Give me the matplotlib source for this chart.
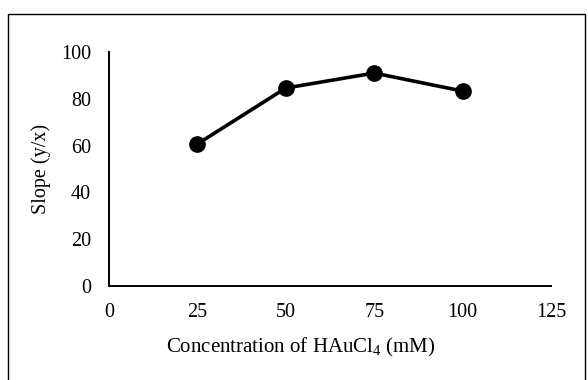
import matplotlib
matplotlib.use("Agg")
import matplotlib.pyplot as plt
from matplotlib.patches import Rectangle

# data
concentration = [25, 50, 75, 100]
slope = [60.7, 84.6, 91.0, 83.3]
x_ticks = [0, 25, 50, 75, 100, 125]
y_ticks = [0, 20, 40, 60, 80, 100]

plt.rcParams['font.family'] = ['Liberation Serif', 'DejaVu Serif']
plt.rcParams['mathtext.fontset'] = 'custom'
plt.rcParams['mathtext.rm'] = 'Liberation Serif'

fs = 14.5

fig = plt.figure(figsize=(5.88, 3.8), dpi=100)
fig.patches.append(Rectangle((8 / 588, -0.05), 577 / 588, (380 - 14) / 380 + 0.05,
                             transform=fig.transFigure, fill=False,
                             edgecolor='black', linewidth=1.0))

ax = fig.add_axes([109 / 588, 94 / 380, 442 / 588, 234 / 380])
ax.plot(concentration, slope, color='black', linewidth=2.6,
        marker='o', markersize=11, clip_on=False)

ax.set_xlim(0, 125)
ax.set_ylim(0, 100)
ax.set_xticks(x_ticks)
ax.set_yticks(y_ticks)
ax.tick_params(length=0, labelsize=fs)
ax.tick_params(axis='x', pad=12)
ax.tick_params(axis='y', pad=13)

for side in ['top', 'right']:
    ax.spines[side].set_visible(False)
for side in ['left', 'bottom']:
    ax.spines[side].set_linewidth(1.4)

# axis titles placed where the reference has them (x title sits left of centre)
ax.text(0.434, -0.262, r"Concentration of HAuCl$_4$ (mM)", fontsize=15,
        ha='center', va='center', transform=ax.transAxes)
ax.text(-0.154, 0.5, "Slope (y/x)", fontsize=fs, rotation=90,
        ha='center', va='center', transform=ax.transAxes)

fig.savefig("out.png", dpi=100)
